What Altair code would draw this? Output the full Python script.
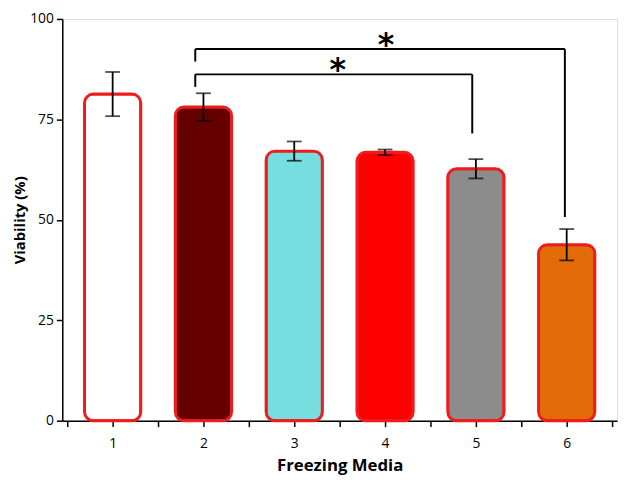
import altair as alt
import pandas as pd

media = [1, 2, 3, 4, 5, 6]
viability = [81.3, 78.1, 67.1, 66.8, 62.7, 43.8]
sem = [5.5, 3.4, 2.4, 0.7, 2.4, 3.9]
fills = ["#ffffff", "#650000", "#76dede", "#ff0000", "#8c8c8c", "#e36c09"]

# significance brackets (data units)
br_left = [1.91, 1.91]
br_right = [5.98, 4.96]
br_top = [92.5, 86.2]
br_left_low = [89.4, 83.1]
br_right_low = [50.7, 71.5]
star_x = [4.01, 3.48]

bars = pd.DataFrame({"media": media, "v": viability, "lo": [v - s for v, s in zip(viability, sem)],
                     "hi": [v + s for v, s in zip(viability, sem)], "fill": fills})
brk = pd.DataFrame({"x1": br_left, "x2": br_right, "y": br_top, "yl": br_left_low, "yr": br_right_low,
                    "sx": star_x, "s": ["*", "*"]})

FONT = "Open Sans"
xscale = alt.Scale(domain=[0.5, 6.5], nice=False, zero=False)
yscale = alt.Scale(domain=[0, 100], nice=False)

x_axis = alt.Axis(values=[0.5, 1, 1.5, 2, 2.5, 3, 3.5, 4, 4.5, 5, 5.5, 6, 6.5],
                  labelExpr="datum.value % 1 == 0 ? format(datum.value, 'd') : ''",
                  grid=False, tickSize=6, tickColor="black", domainColor="black", domainWidth=1.5,
                  tickWidth=1.5, labelFont=FONT, labelFontSize=14, labelColor="black",
                  labelPadding=10, title="Freezing Media", titleFont=FONT, titleFontSize=17,
                  titleFontWeight="bold", titleColor="black", titlePadding=7, labelFlush=False)
y_axis = alt.Axis(values=[0, 25, 50, 75, 100], grid=False, tickSize=6, tickColor="black",
                  domainColor="black", domainWidth=1.5, tickWidth=1.5, labelFont=FONT,
                  labelFontSize=14, labelColor="black", labelPadding=3, title="Viability (%)",
                  titleFont=FONT, titleFontSize=15, titleFontWeight="bold", titleColor="black",
                  titlePadding=2)

base = alt.Chart(bars)
bar = base.mark_bar(size=57, stroke="#ee1c1c", strokeWidth=3, cornerRadius=9).encode(
    x=alt.X("media:Q", scale=xscale, axis=x_axis),
    y=alt.Y("v:Q", scale=yscale, axis=y_axis),
    fill=alt.Fill("fill:N", scale=None),
)
err = base.mark_rule(color="black", strokeWidth=1.8).encode(
    x="media:Q", y="lo:Q", y2="hi:Q")
cap_hi = base.mark_tick(color="black", size=15, thickness=1.8, orient="horizontal").encode(
    x="media:Q", y="hi:Q")
cap_lo = base.mark_tick(color="black", size=15, thickness=1.8, orient="horizontal").encode(
    x="media:Q", y="lo:Q")

b = alt.Chart(brk)
hline = b.mark_rule(color="black", strokeWidth=2).encode(x="x1:Q", x2="x2", y="y:Q")
lleg = b.mark_rule(color="black", strokeWidth=2).encode(x="x1:Q", y="y:Q", y2="yl")
rleg = b.mark_rule(color="black", strokeWidth=2).encode(x="x2:Q", y="y:Q", y2="yr")
star = b.mark_text(font="DejaVu Sans", fontSize=32, fontWeight="bold", baseline="alphabetic",
                   align="center", dy=6, color="black").encode(x="sx:Q", y="y:Q", text="s:N")

chart = alt.layer(bar, err, cap_hi, cap_lo, hline, lleg, rleg, star).properties(
    width=562, height=407,
    autosize=alt.AutoSizeParams(type="none"),
    padding={"left": 55, "top": 8, "right": 2, "bottom": 57},
).configure_view(stroke=None).configure(background="white")

chart.save("out.html", embed_options={"renderer": "svg", "actions": False})
